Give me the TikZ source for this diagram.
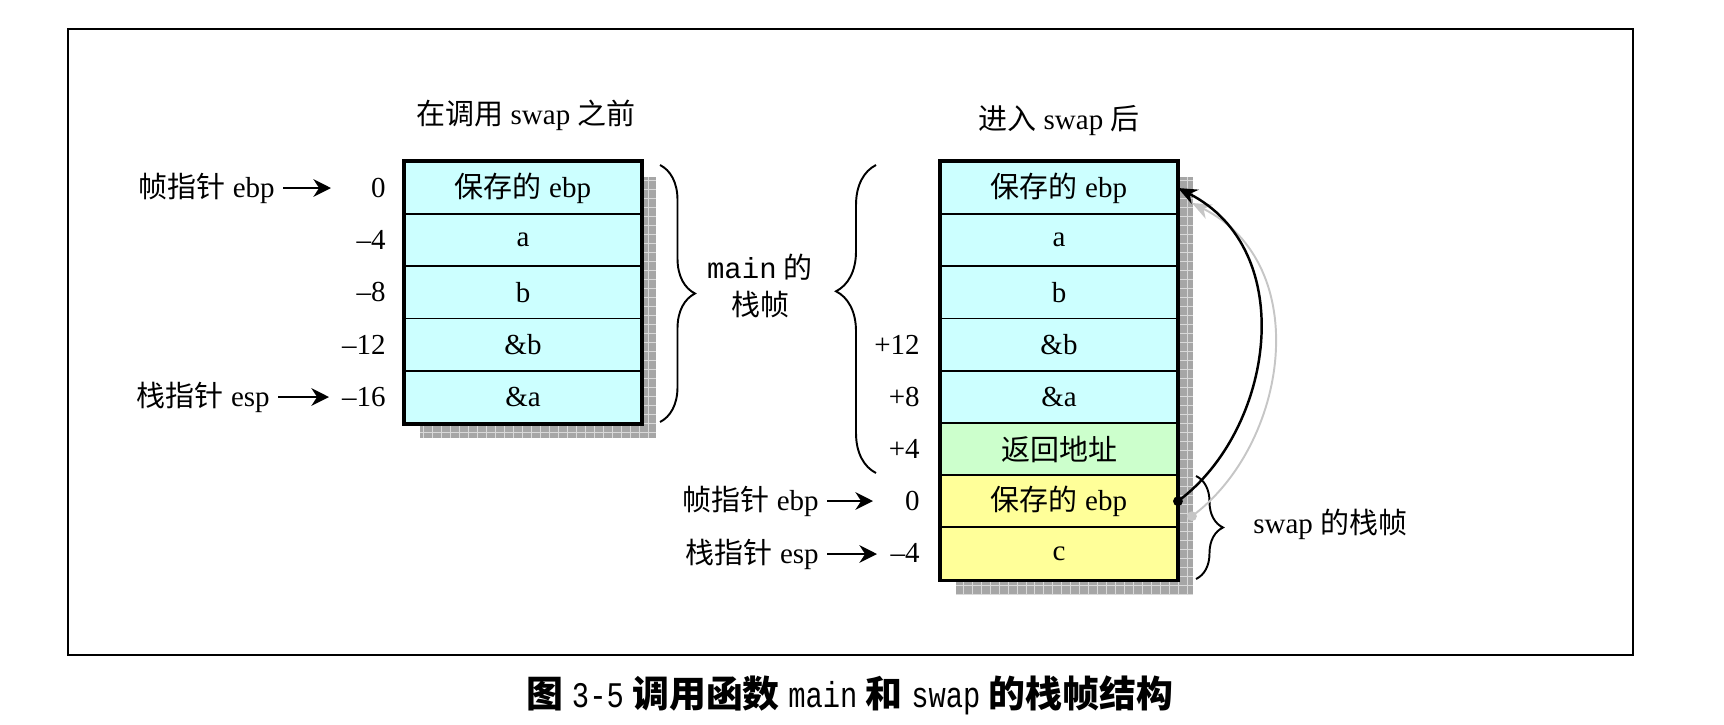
\documentclass[tikz,border=0pt]{standalone}
\usepackage{fontspec}
\setmainfont{Liberation Serif}
\setmonofont{Liberation Mono}
\newfontfamily\cjk{Noto Sans CJK SC}
\newfontfamily\narrowmono[FakeStretch=0.8]{Liberation Mono}
\usetikzlibrary{arrows.meta,decorations.pathreplacing}
\definecolor{cellcyan}{HTML}{CCFFFF}
\definecolor{cellgreen}{HTML}{CCFFCC}
\definecolor{cellyellow}{HTML}{FFFF99}
\definecolor{shadegray}{HTML}{A6A6A6}
\newcommand\capmono[1]{{\narrowmono\mdseries\fontsize{20.5}{24}\selectfont #1}}

\begin{document}
\begin{tikzpicture}[x=0.02cm,y=-0.02cm,
		font=\fontsize{16.5}{21.5}\selectfont,
		cell/.style={draw,line width=1.1pt,minimum width=4.72cm,minimum height=1.044cm,inner sep=0pt},
		lbl/.style={inner sep=0pt},
		ptr/.style={-{Stealth[length=10pt,width=10pt]},line width=1.6pt,shorten <=0.16cm},
		curly/.style={decorate,line width=1.1pt},
		shade/.style={fill=shadegray},
		shadegrid/.style={white!70!gray,line width=0.3pt}]
		\useasboundingbox (0,0) rectangle (1724,724);
		% ===== OUTER FRAME =====
		\draw[line width=1.6pt] (68,29) rectangle (1633,655);
		% ===== LEFT STACK: before calling swap =====
		\node (ltitle) at (526,115) {{\cjk 在调用} swap {\cjk 之前}};
		\fill[shade] (420,177) rectangle (656,438);
		\draw[shadegrid,step=0.18cm] (420,177) grid (656,438);
		\foreach \i/\txt in {0/{{\cjk 保存的} ebp}, 1/a, 2/b, 3/\&b, 4/\&a} {
			\node[cell,fill=cellcyan] (L\i) at (523,{188+52.2*\i}) {\txt};
		}
		\draw[line width=2pt] (L0.north west) rectangle (L4.south east);
		% Offsets on left stack
		\foreach \i/\lab in {0/0, 1/--4, 2/--8, 3/--12, 4/--16} {
			\node[lbl,anchor=east] (Lo\i) at (386,{188+52.2*\i}) {\lab};
		}
		\node[lbl,anchor=east] (lebp) at (275,188) {{\cjk 帧指针} ebp};
		\coordinate (lebpend) at (331,188);
		\draw[ptr] (lebp) -- (lebpend);
		\node[lbl,anchor=east] (lesp) at (270,397) {{\cjk 栈指针} esp};
		\coordinate (lespend) at (329,397);
		\draw[ptr] (lesp) -- (lespend);
		% Brace for main frame
		\draw[curly,decoration={brace,amplitude=0.7cm}] (660,165) -- (660,422);
		\node[align=center] (mainlbl) at (760,286) {{\ttfamily main} {\cjk 的}\\{\cjk 栈帧}};
		\draw[curly,decoration={brace,amplitude=0.8cm,aspect=0.59}] (876,473) -- (876,165);
		% ===== RIGHT STACK: after entering swap =====
		\node (rtitle) at (1059,121) {{\cjk 进入} swap {\cjk 后}};
		\fill[shade] (956,177) rectangle (1193,595);
		\draw[shadegrid,step=0.18cm] (956,177) grid (1193,595);
		\foreach \i/\txt/\col in {0/{{\cjk 保存的} ebp}/cellcyan, 1/a/cellcyan, 2/b/cellcyan, 3/\&b/cellcyan, 4/\&a/cellcyan, 5/{\cjk 返回地址}/cellgreen, 6/{{\cjk 保存的} ebp}/cellyellow, 7/c/cellyellow} {
			\node[cell,fill=\col] (R\i) at (1059,{188+52.2*\i}) {\txt};
		}
		\draw[line width=2pt] (R0.north west) rectangle (R7.south east);
		% Offsets on right stack
		\foreach \i/\lab in {3/+12, 4/+8, 5/+4, 6/0, 7/--4} {
			\node[lbl,anchor=east] (Ro\i) at (920,{188+52.2*\i}) {\lab};
		}
		\node[lbl,anchor=east] (rebp) at (819,501) {{\cjk 帧指针} ebp};
		\coordinate (rebpend) at (873,501);
		\draw[ptr] (rebp) -- (rebpend);
		\node[lbl,anchor=east] (resp) at (819,554) {{\cjk 栈指针} esp};
		\coordinate (respend) at (877,554);
		\draw[ptr] (resp) -- (respend);
		% Brace for swap frame
		\draw[curly,decoration={brace,amplitude=0.54cm}] (1196,476) -- (1196,579);
		\node[lbl,anchor=west] (swaplbl) at (1253,524) {swap {\cjk 的栈帧}};
		% ===== Saved ebp link (with its grey shadow) =====
		\fill[gray!45] ([xshift=0.28cm,yshift=-0.3cm]R6.east) circle (2.8pt);
		\draw[gray!45,line width=1.1pt,-{Stealth[length=11pt,width=9pt]}] ([xshift=0.28cm,yshift=-0.3cm]R6.east) .. controls (1288,445) and (1315,265) .. ([xshift=0.28cm,yshift=-0.3cm]R0.east);
		\fill (R6.east) circle (2.8pt);
		\draw[line width=1.4pt,-{Stealth[length=11pt,width=9pt]}] (R6.east) .. controls (1274,430) and (1300,250) .. (R0.east);
		% ===== CAPTION =====
		\node[font=\fontsize{21}{24}\selectfont\cjk\bfseries] (caption) at (850,695) {图 \capmono{3-5} 调用函数 \capmono{main} 和 \capmono{swap} 的栈帧结构};
	\end{tikzpicture}
\end{document}
